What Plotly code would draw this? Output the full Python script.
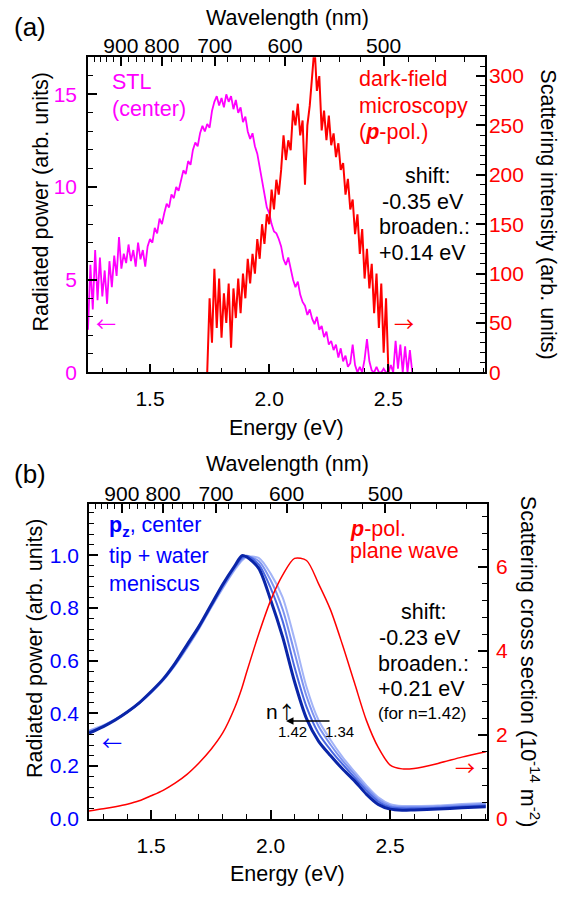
import numpy as np
import plotly.graph_objects as go

W, H = 568, 900
FONT = "Liberation Sans, Arial, sans-serif"
ARROWFONT = "Noto Sans CJK SC, DejaVu Sans, sans-serif"
MAG = "#FF00FF"
RED = "#FF0000"
BLUE = "#0000FF"

# ---------------- Panel (a) data ----------------
stl_energy = np.round(np.arange(1.24, 2.6001, 0.01), 2)
stl_power = [
    2.3, 5.8, 3.4, 6.6, 3.9, 6.2,
    4.1, 5.5, 3.7, 6.0, 4.6, 6.3, 5.2, 7.3, 5.6, 6.4,
    5.9, 6.9, 6.0, 6.6, 5.7, 7.0, 6.1, 6.6, 5.7, 6.8,
    7.2, 7.0, 7.8, 7.5, 8.3, 8.0, 8.6, 9.1, 8.9, 9.6,
    9.4, 10.0, 9.8, 10.4, 10.9, 10.7, 11.4, 11.2, 12.0, 12.4,
    12.2, 12.9, 13.3, 13.0, 13.4, 13.2, 14.1, 14.6, 14.9, 14.4,
    14.8, 14.3, 15.0, 14.6, 14.9, 14.2, 14.7, 14.0, 14.3, 13.5,
    13.8, 13.0, 12.6, 12.9, 12.2, 11.8, 11.1, 10.3, 9.6, 8.9,
    8.6, 8.0, 7.6, 7.5, 7.2, 6.8, 6.1, 5.8, 6.2, 5.6,
    5.0, 4.6, 4.9, 4.2, 3.8, 3.6, 3.1, 3.4, 2.9, 2.6,
    3.0, 2.3, 2.5, 1.9, 2.2, 1.5, 1.7, 1.2, 1.5, 0.8,
    1.3, 0.6, 0.9, 0.3, 0.5, 1.5, 0.4, 0.0, 0.3, 0.0,
    0.7, 1.8, 0.6, 0.1, 0.0, 0.3, 0.0, 0.0, 0.2, 0.0,
    0.0, 0.4, 0.0, 1.7, 0.2, 1.5, 0.0, 1.4, 0.0, 1.2, 0.0,
]
df_energy = np.round(np.arange(1.74, 2.5001, 0.01), 2)
df_intensity = [
    0, 75, 30, 105, 45, 95,
    35, 80, 50, 90, 25, 85, 55, 95, 60, 100,
    75, 115, 90, 120, 100, 135, 115, 150, 130, 160,
    150, 185, 165, 195, 180, 205, 240, 215, 235, 225,
    265, 250, 272, 240, 255, 190, 250, 270, 300, 330,
    285, 300, 245, 265, 235, 260, 230, 242, 218, 232,
    205, 212, 180, 196, 165, 175, 140, 160, 120, 145,
    95, 125, 85, 110, 60, 100, 45, 90, 20, 75,
    0,
]

# ---------------- Panel (b) data ----------------
sim_energy = [1.24, 1.30, 1.35, 1.40, 1.45, 1.50, 1.55, 1.60, 1.65, 1.70,
              1.75, 1.80, 1.85, 1.88, 1.90, 1.95, 2.00, 2.05, 2.10, 2.15,
              2.20, 2.25, 2.30, 2.35, 2.40, 2.45, 2.50, 2.55, 2.60, 2.70,
              2.80, 2.90]
pz_n134 = [0.335, 0.355, 0.378, 0.405, 0.438, 0.478, 0.525, 0.582, 0.648, 0.720,
           0.800, 0.875, 0.945, 0.980, 0.993, 0.990, 0.930, 0.840, 0.680, 0.500,
           0.375, 0.300, 0.235, 0.180, 0.127, 0.082, 0.056, 0.049, 0.049, 0.051,
           0.056, 0.060]
pz_n136 = [0.332, 0.353, 0.377, 0.405, 0.439, 0.479, 0.526, 0.584, 0.651, 0.723,
           0.802, 0.879, 0.950, 0.985, 0.996, 0.978, 0.905, 0.795, 0.630, 0.465,
           0.352, 0.282, 0.222, 0.170, 0.118, 0.074, 0.050, 0.045, 0.045, 0.047,
           0.052, 0.056]
pz_n139 = [0.328, 0.351, 0.376, 0.405, 0.440, 0.481, 0.528, 0.587, 0.655, 0.726,
           0.805, 0.884, 0.955, 0.990, 0.998, 0.965, 0.875, 0.750, 0.575, 0.425,
           0.325, 0.262, 0.208, 0.158, 0.108, 0.066, 0.044, 0.040, 0.040, 0.042,
           0.047, 0.051]
pz_n142 = [0.325, 0.350, 0.375, 0.405, 0.440, 0.483, 0.530, 0.590, 0.660, 0.730,
           0.810, 0.890, 0.960, 0.998, 0.993, 0.950, 0.830, 0.690, 0.520, 0.380,
           0.295, 0.240, 0.190, 0.145, 0.094, 0.055, 0.037, 0.033, 0.034, 0.037,
           0.042, 0.046]
pw_scattering = [0.19, 0.24, 0.29, 0.35, 0.43, 0.55, 0.68, 0.85, 1.06, 1.33,
                 1.65, 2.05, 2.65, 3.12, 3.50, 4.40, 5.20, 5.80, 6.20, 6.15,
                 5.60, 4.98, 4.15, 3.25, 2.35, 1.70, 1.28, 1.19, 1.20, 1.32,
                 1.47, 1.60]

wavelength_major = [900, 800, 700, 600, 500]
wavelength_minor = [w for w in range(440, 1001, 20) if w % 100 != 0] + [1000]

HC = 1239.84


def px(x):
    return x / W


def py(y):
    return 1 - y / H


fig = go.Figure()

# panel (a)
fig.add_trace(go.Scatter(x=stl_energy, y=stl_power, mode="lines",
                         line=dict(color=MAG, width=1.8), xaxis="x", yaxis="y"))
fig.add_trace(go.Scatter(x=df_energy, y=df_intensity, mode="lines",
                         line=dict(color=RED, width=2), xaxis="x", yaxis="y2"))
fig.add_trace(go.Scatter(x=[None], y=[None], xaxis="x2", yaxis="y", hoverinfo="skip"))

# panel (b)
blues = [("#A3B4F7", 2, pz_n134), ("#7D93F0", 2, pz_n136),
         ("#4A68E2", 2, pz_n139), ("#0A25A8", 3, pz_n142)]
for col, wd, vals in blues:
    fig.add_trace(go.Scatter(x=sim_energy, y=vals, mode="lines",
                             line=dict(color=col, width=wd, shape="spline", smoothing=0.8),
                             xaxis="x3", yaxis="y3"))
fig.add_trace(go.Scatter(x=sim_energy, y=pw_scattering, mode="lines",
                         line=dict(color=RED, width=1.5, shape="spline", smoothing=0.8),
                         xaxis="x3", yaxis="y4"))
fig.add_trace(go.Scatter(x=[None], y=[None], xaxis="x4", yaxis="y3", hoverinfo="skip"))

common = dict(showline=True, linecolor="black", linewidth=1.5, ticks="inside",
              ticklen=9, tickwidth=1.5, tickcolor="black", showgrid=False,
              zeroline=False, fixedrange=True)
minor_style = dict(ticks="inside", ticklen=5, tickwidth=1.2, tickcolor="black")

TICKSIZE = 21


def tfont(color="black"):
    return dict(family=FONT, size=TICKSIZE, color=color)


wl_vals = [HC / w for w in wavelength_major]
wl_text = [str(w) for w in wavelength_major]
wl_minor = [HC / w for w in wavelength_minor]

XR = [1.24, 2.905]
dom_a = [py(377), py(58)]
dom_b = [py(829), py(510)]
xdom_a = [px(88), px(485)]
xdom_b = [px(89), px(487)]

fig.update_layout(
    width=W, height=H, margin=dict(l=0, r=0, t=0, b=0),
    paper_bgcolor="white", plot_bgcolor="white", showlegend=False,
    xaxis=dict(common, domain=xdom_a, range=XR, anchor="y", tickmode="linear", tick0=0,
               dtick=0.5, tickformat=".1f", tickfont=tfont(), ticklabelstandoff=7,
               minor=dict(minor_style, tickmode="linear", tick0=0, dtick=0.1)),
    xaxis2=dict(common, domain=xdom_a, range=XR, anchor="y", overlaying="x", side="top",
                tickmode="array", tickvals=wl_vals, ticktext=wl_text, tickfont=tfont(),
                ticklabelstandoff=-6,
                minor=dict(minor_style, tickmode="array", tickvals=wl_minor)),
    yaxis=dict(common, domain=dom_a, range=[0, 17], anchor="x", tickmode="linear", tick0=0,
               dtick=5, tickfont=tfont(MAG), ticklabelstandoff=5,
               minor=dict(minor_style, tickmode="linear", tick0=0, dtick=1)),
    yaxis2=dict(common, domain=dom_a, range=[0, 319], anchor="x", overlaying="y", side="right",
                tickmode="linear", tick0=0, dtick=50, tickfont=tfont(RED), ticklabelstandoff=-2,
                minor=dict(minor_style, tickmode="linear", tick0=0, dtick=10)),
    xaxis3=dict(common, domain=xdom_b, range=XR, anchor="y3", tickmode="linear", tick0=0,
                dtick=0.5, tickformat=".1f", tickfont=tfont(), ticklabelstandoff=7,
                minor=dict(minor_style, tickmode="linear", tick0=0, dtick=0.1)),
    xaxis4=dict(common, domain=xdom_b, range=XR, anchor="y3", overlaying="x3", side="top",
                tickmode="array", tickvals=wl_vals, ticktext=wl_text, tickfont=tfont(),
                ticklabelstandoff=-7,
                minor=dict(minor_style, tickmode="array", tickvals=wl_minor)),
    yaxis3=dict(common, domain=dom_b, range=[0, 1.195], anchor="x3", tickmode="linear", tick0=0,
                dtick=0.2, tickformat=".1f", tickfont=tfont(BLUE), ticklabelstandoff=4,
                minor=dict(minor_style, tickmode="linear", tick0=0, dtick=0.04)),
    yaxis4=dict(common, domain=dom_b, range=[0, 7.5], anchor="x3", overlaying="y3", side="right",
                tickmode="linear", tick0=0, dtick=2, tickfont=tfont(RED), ticklabelstandoff=3,
                minor=dict(minor_style, tickmode="linear", tick0=0, dtick=0.4)),
)

ann = []
LBL = 21.5


def text(x, y, s, size=LBL, color="black", xanchor="center", angle=0, family=FONT):
    ann.append(dict(x=px(x), y=py(y), xref="paper", yref="paper", text=s, showarrow=False,
                    xanchor=xanchor, yanchor="middle", textangle=angle,
                    font=dict(family=family, size=size, color=color)))


# panel (a) labels
text(30, 27, "(a)", size=26)
text(287, 18, "Wavelength (nm)")
text(286, 433, "Energy (eV)")
text(41, 205, "Radiated power (arb. units)", angle=-90)
text(548, 217, "Scattering intensity (arb. units)", angle=90)
text(110, 83, "STL", color=MAG, xanchor="left")
text(110, 110, "(center)", color=MAG, xanchor="left")
text(357, 80, "dark-field", color=RED, xanchor="left")
text(357, 107, "microscopy", color=RED, xanchor="left")
text(357, 134, "(<b><i>p</i></b>-pol.)", color=RED, xanchor="left")
text(427, 178, "shift:")
text(423, 204, "-0.35 eV")
text(425, 230, "broaden.:")
text(422, 256, "+0.14 eV")
text(106, 327, "←", color=MAG, size=20, family=ARROWFONT)
text(404, 327, "→", color=RED, size=20, family=ARROWFONT)

# panel (b) labels
text(30, 480, "(b)", size=26)
text(287, 470, "Wavelength (nm)")
text(287, 885, "Energy (eV)")
text(35, 657, "Radiated power (arb. units)", angle=-90)
text(530, 670, "Scattering cross section (10<sup>-14</sup> m<sup>-2</sup>)", angle=90)
text(107, 533, "<b>p<sub>z</sub></b>, center", color=BLUE, xanchor="left")
text(107, 563, "tip + water", color=BLUE, xanchor="left")
text(107, 591, "meniscus", color=BLUE, xanchor="left")
text(348, 536, "<b><i>p</i></b>-pol.", color=RED, xanchor="left")
text(348, 558, "plane wave", color=RED, xanchor="left")
text(423, 620, "shift:")
text(420, 646, "-0.23 eV")
text(423, 672, "broaden.:")
text(421, 698, "+0.21 eV")
text(422, 722, "(for n=1.42)", size=17)
text(112, 752, "←", color=BLUE, size=20, family=ARROWFONT)
text(465, 777, "→", color=RED, size=20, family=ARROWFONT)
text(281, 720,
     "n<span style='font-family:Noto Sans CJK SC;font-size:18px'>↑</span>", size=21)
text(292, 741, "1.42", size=15)
text(339, 741, "1.34", size=15)
ann.append(dict(x=px(286), y=py(730), ax=45, ay=0, xref="paper", yref="paper",
                axref="pixel", ayref="pixel", text="", showarrow=True, arrowhead=2,
                arrowsize=1, arrowwidth=1.5, arrowcolor="black"))

fig.update_layout(annotations=ann)
fig.write_html("out.html")
